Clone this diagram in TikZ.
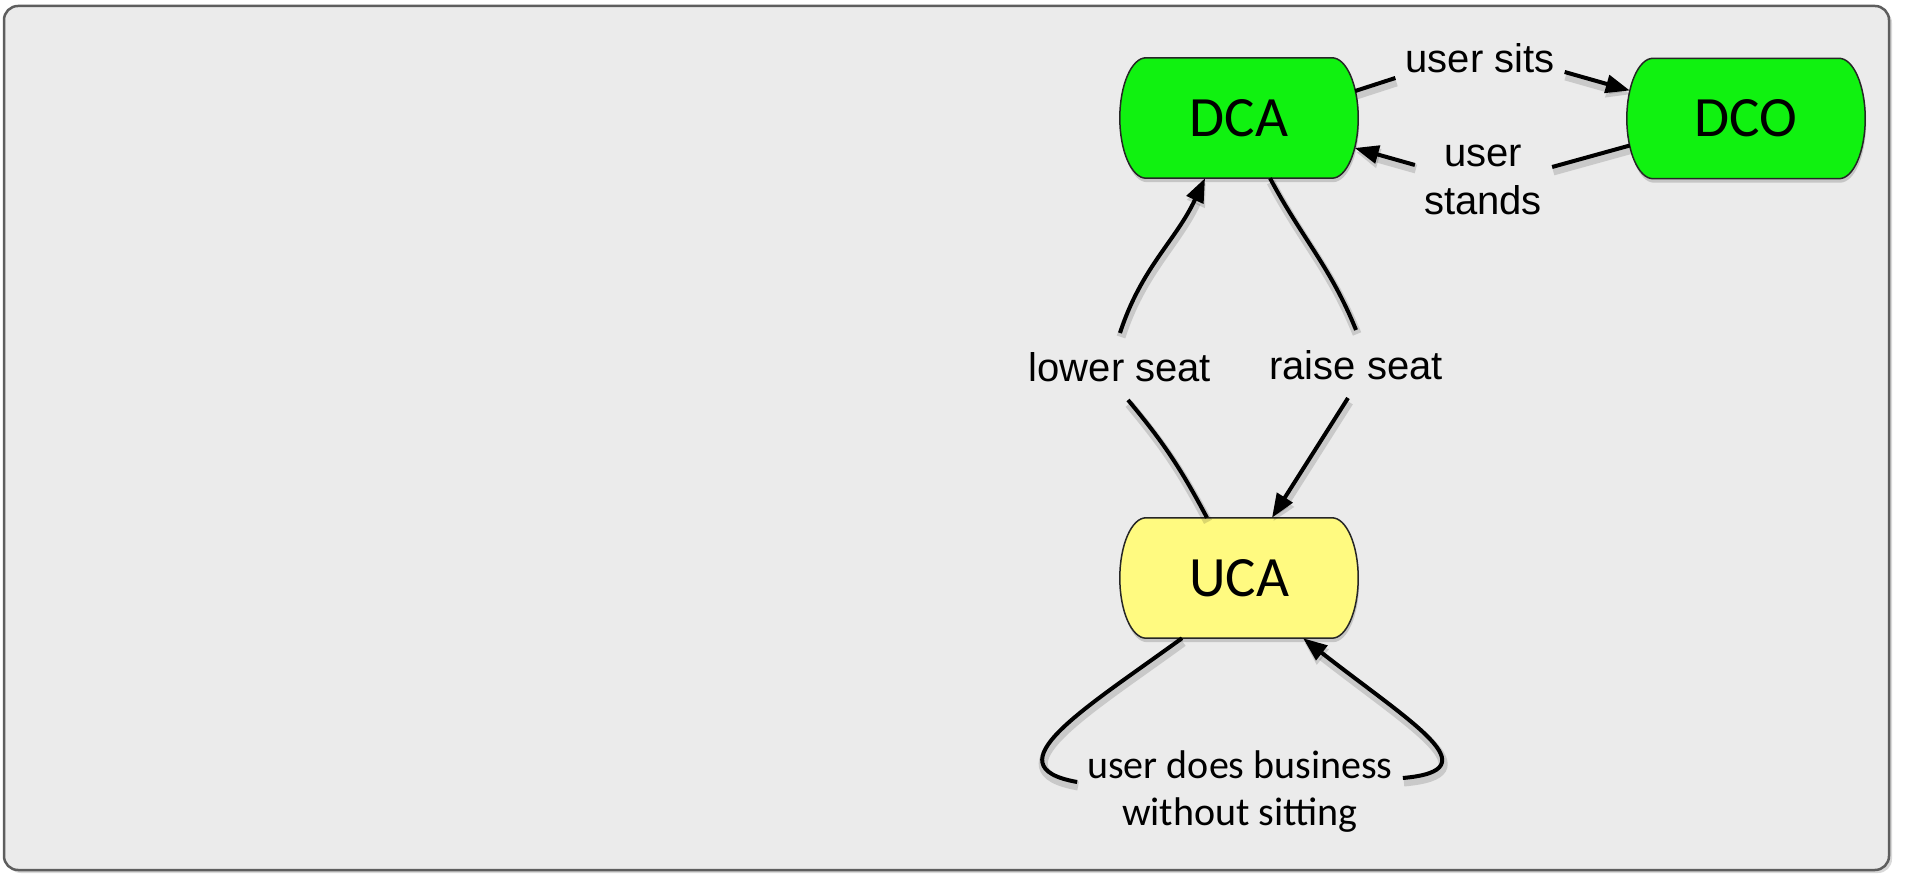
\documentclass[tikz,border=0pt]{standalone}
\usepackage{fontspec}
\newfontfamily\helv{Liberation Sans}
\newfontfamily\calib{Carlito}
\usetikzlibrary{arrows.meta,shadows}
\pgfdeclarelayer{framelayer}
\pgfdeclarelayer{background}
\pgfsetlayers{framelayer,background,main}
\definecolor{bgc}{HTML}{EBEBEB}
\definecolor{framec}{HTML}{5E5E5E}
\definecolor{stgreen}{RGB}{16,242,16}
\definecolor{styellow}{RGB}{255,250,128}
\tikzset{
  statenode/.style={rectangle, minimum width=238pt, minimum height=120pt, inner sep=0pt,
    font=\calib\fontsize{57}{68}\selectfont},
  lbl/.style={font=\helv\fontsize{40}{48}\selectfont, inner sep=0pt},
  bizlbl/.style={font=\calib\fontsize{40}{47}\selectfont, inner sep=0pt, align=center},
  lineshadow/.style={preaction={draw=black, opacity=0.14, line width=9pt,
    transform canvas={xshift=1pt,yshift=-4pt}}},
  conn/.style={line width=4pt, black, lineshadow},
  arr/.style={conn, -{Triangle[length=24pt,width=18pt]}},
  capsule/.style={draw=black!85, line width=1.5pt,
    drop shadow={shadow xshift=1pt, shadow yshift=-4pt, opacity=0.35}},
  framebox/.style={fill=bgc, draw=framec, line width=2.5pt, rounded corners=14pt,
    drop shadow={shadow xshift=3pt, shadow yshift=-3pt, opacity=0.3}}
}
\newcommand\capsuleshape[2]{%
  \path[capsule, fill=#2] ([xshift=-93pt]#1.north) -- ([xshift=93pt]#1.north)
    .. controls +(14.4pt,0pt) and +(0pt,33.1pt) .. (#1.east)
    .. controls +(0pt,-33.1pt) and +(14.4pt,0pt) .. ([xshift=93pt]#1.south)
    -- ([xshift=-93pt]#1.south)
    .. controls +(-14.4pt,0pt) and +(0pt,-33.1pt) .. (#1.west)
    .. controls +(0pt,33.1pt) and +(-14.4pt,0pt) .. ([xshift=-93pt]#1.north) -- cycle;}
\begin{document}
\begin{tikzpicture}[x=1pt,y=1pt]
\useasboundingbox (0,0) rectangle (1910,875);
\begin{pgfonlayer}{framelayer}
  \path[framebox] (4,5) rectangle (1889,869);
\end{pgfonlayer}

\node[statenode] (dca) at (1239,757) {DCA};
\node[statenode] (dco) at (1746,756.5) {DCO};
\node[statenode] (uca) at (1239,297) {UCA};
\begin{pgfonlayer}{background}
  \capsuleshape{dca}{stgreen}
  \capsuleshape{dco}{stgreen}
  \capsuleshape{uca}{styellow}
\end{pgfonlayer}

\node[lbl, anchor=base] (sits) at (1480,802) {user sits};
\node[lbl, align=center] (stands) at (1483,695) {user\\stands};
\node[lbl, anchor=base] (lower) at (1120,493) {lower seat};
\node[lbl, anchor=base] (raise) at (1356,495) {raise seat};
\node[bizlbl] (biz) at (1240,83) {user does business\\without sitting};

% user sits
\draw[conn] ([xshift=-3pt,yshift=27pt]dca.east) -- ([xshift=-10pt,yshift=-5pt]sits.base west);
\draw[arr] ([xshift=10pt,yshift=1pt]sits.base east) -- ([xshift=3pt,yshift=28pt]dco.west);
% user stands
\draw[conn] ([xshift=3pt,yshift=-27pt]dco.west) -- ([xshift=10pt,yshift=13pt]stands.east);
\draw[arr] ([xshift=-9pt,yshift=15pt]stands.west) -- ([xshift=-3.5pt,yshift=-30pt]dca.east);
% lower seat
\draw[conn] ([xshift=-32pt]uca.north) to[out=118,in=-50] ([xshift=8pt,yshift=-18pt]lower.base);
\draw[arr] ([yshift=49pt]lower.base) to[out=72,in=-115] ([xshift=-34pt]dca.south);
% raise seat
\draw[conn] ([xshift=31pt]dca.south) to[out=-62,in=112] ([yshift=50pt]raise.base);
\draw[arr] ([xshift=-8pt,yshift=-18pt]raise.base) -- ([xshift=33pt]uca.north);
% self loop
\draw[conn] ([xshift=-57pt]uca.south) .. controls +(216:120) and +(170:90) .. ([xshift=-10pt,yshift=10pt]biz.west);
\draw[arr] ([xshift=10pt,yshift=14pt]biz.east) .. controls +(5:90) and +(-38:140) .. ([xshift=64pt]uca.south);
\end{tikzpicture}
\end{document}
